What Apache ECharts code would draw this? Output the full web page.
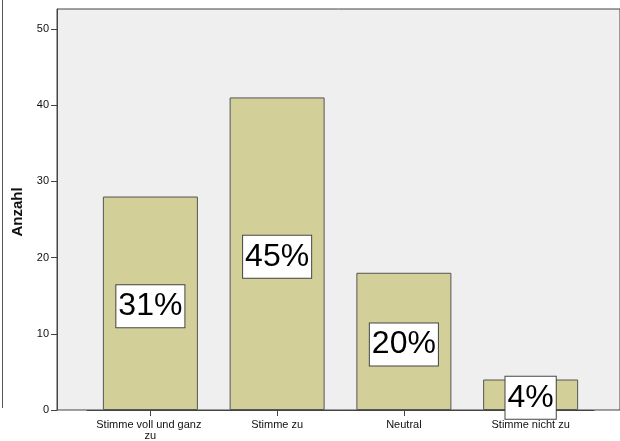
<!DOCTYPE html>
<html>
<head>
<meta charset="utf-8">
<script src="https://cdn.jsdelivr.net/npm/echarts@6/dist/echarts.min.js"></script>
<style>html,body{margin:0;padding:0;background:#fff}#c{width:620px;height:441px}</style>
</head>
<body>
<div id="c"></div>
<script>
var categories = ['Stimme voll und ganz zu', 'Stimme zu', 'Neutral', 'Stimme nicht zu'];
var counts = [28, 41, 18, 4];
var percentLabels = ['31%', '45%', '20%', '4%'];
var yTicks = [0, 10, 20, 30, 40, 50];
var yMax = 52.6;

var chart = echarts.init(document.getElementById('c'), null, {renderer: 'canvas'});
var font = 'Liberation Sans, Arial, sans-serif';
chart.setOption({
  animation: false,
  backgroundColor: '#ffffff',
  graphic: [{
    type: 'line', silent: true,
    shape: {x1: 2.5, y1: 0, x2: 2.5, y2: 408},
    style: {stroke: '#555', lineWidth: 1}
  }],
  grid: [
    {left: 57, top: 9, right: -20, bottom: 31, show: true, backgroundColor: '#efefef', borderColor: '#444', borderWidth: 1},
    {left: 87, top: 9, width: 507, bottom: 31}
  ],
  xAxis: [
    {gridIndex: 0, type: 'value', show: false, min: 0, max: 1},
    {gridIndex: 1, type: 'category', data: categories,
     axisLine: {lineStyle: {color: '#444'}},
     axisTick: {show: true, alignWithLabel: true, length: 6, lineStyle: {color: '#444'}},
     axisLabel: {color: '#111', fontSize: 11, fontFamily: font, margin: 9, width: 118, overflow: 'break', lineHeight: 11, interval: 0}
    }
  ],
  yAxis: [
    {gridIndex: 0, type: 'value', min: 0, max: yMax,
     name: 'Anzahl', nameLocation: 'middle', nameGap: 32, nameMoveOverlap: false,
     nameTextStyle: {fontSize: 15, fontWeight: 'bold', fontFamily: font, color: '#111', padding: [0, 5, 0, 0]},
     axisLine: {show: true, lineStyle: {color: '#444'}},
     axisTick: {show: true, length: 6, lineStyle: {color: '#444'}, customValues: yTicks},
     axisLabel: {color: '#111', fontSize: 11, fontFamily: font, margin: 8, customValues: yTicks},
     splitLine: {show: false}
    },
    {gridIndex: 1, type: 'value', min: 0, max: yMax, show: false}
  ],
  series: [{
    type: 'bar', xAxisIndex: 1, yAxisIndex: 1,
    data: counts,
    barWidth: 95,
    itemStyle: {color: '#d3cf98', borderColor: '#555', borderWidth: 1},
    label: {
      show: true, position: 'inside', offset: [0, 3],
      formatter: function (p) { return percentLabels[p.dataIndex]; },
      color: '#000', fontSize: 32, fontFamily: font, lineHeight: 36,
      backgroundColor: '#fff', borderColor: '#444', borderWidth: 1,
      padding: [4, 2, 2, 2]
    }
  }]
});
</script>
</body>
</html>
